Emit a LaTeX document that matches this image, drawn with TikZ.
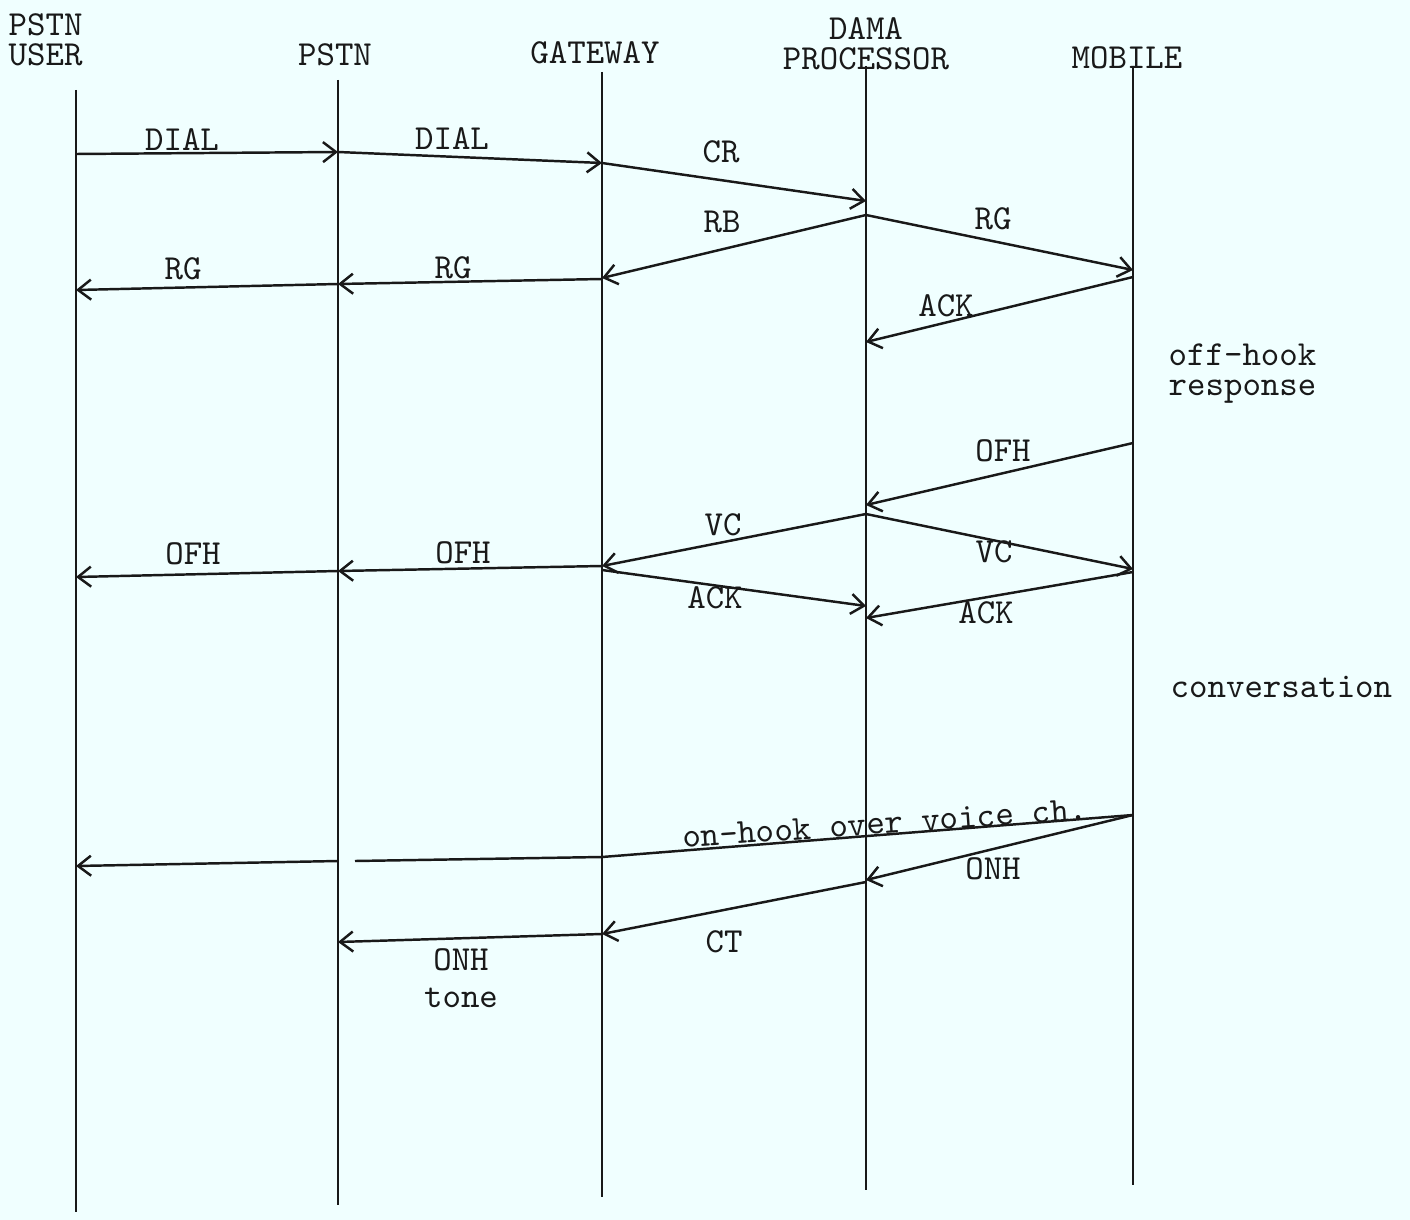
\documentclass[tikz,border=0pt]{standalone}
\usepackage{tikz}
\usetikzlibrary{arrows.meta,calc}
\definecolor{sigbg}{RGB}{240,255,255}
\definecolor{sigink}{RGB}{25,25,25}

\begin{document}
\begin{tikzpicture}[x=0.1mm, y=-0.1mm,
    party/.style={font=\ttfamily\fontsize{10}{8.6}\selectfont, inner sep=0pt,
                  align=center, text=sigink},
    lifeline/.style={draw=sigink, line width=0.5pt},
    msg/.style={draw=sigink, line width=0.7pt,
                -{Straight Barb[length=1.3mm,width=2mm]}},
    lbl/.style={font=\ttfamily\fontsize{10}{8.6}\selectfont, inner sep=0pt,
                text=sigink},
  ]
  % Background
  \fill[sigbg] (0,0) rectangle (1410,1220);

  % Parties
  \node[party, align=left, anchor=west] (user) at (8,40) {PSTN\\USER};
  \node[party] (pstn) at (335,55) {PSTN};
  \node[party] (gw) at (595,53) {GATEWAY};
  \node[party] (dama) at (866,44) {DAMA\\PROCESSOR};
  \node[party] (mob) at (1127,58) {MOBILE};

  % Lifelines
  \coordinate (userT) at (76,90);   \coordinate (userB) at (76,1212);
  \coordinate (pstnT) at (338,80);  \coordinate (pstnB) at (338,1205);
  \coordinate (gwT) at (602,72);    \coordinate (gwB) at (602,1197);
  \coordinate (damaT) at (866,66);  \coordinate (damaB) at (866,1190);
  \coordinate (mobT) at (1133,66);  \coordinate (mobB) at (1133,1185);
  \foreach \p in {user,pstn,gw,dama,mob}
    \draw[lifeline] (\p T) -- (\p B);

  % Call set-up
  \draw[msg] (userT |- 0,154) -- (pstnT |- 0,152);
  \draw[msg] (pstnT |- 0,152) -- (gwT |- 0,163);
  \draw[msg] (gwT |- 0,163) -- (damaT |- 0,201);
  \draw[msg] (damaT |- 0,215) -- (gwT |- 0,278);
  \draw[msg] (damaT |- 0,215) -- (mobT |- 0,270);
  \draw[msg] (gwT |- 0,279) -- (pstnT |- 0,284);
  \draw[msg] (pstnT |- 0,284) -- (userT |- 0,290);
  \draw[msg] (mobT |- 0,277) -- (damaT |- 0,342);

  \node[lbl] (lDialA) at (182,140) {DIAL};
  \node[lbl] (lDialB) at (452,139) {DIAL};
  \node[lbl] (lCr) at (721,152) {CR};
  \node[lbl] (lRb) at (722,222) {RB};
  \node[lbl] (lRgA) at (993,219) {RG};
  \node[lbl] (lRgB) at (453,268) {RG};
  \node[lbl] (lRgC) at (183,269) {RG};
  \node[lbl] (lAckA) at (946,306) {ACK};
  \node[lbl, align=left, anchor=north west] (lOffhook) at (1168,343)
    {off-hook\\response};

  % Answer
  \draw[msg] (mobT |- 0,443) -- (damaT |- 0,505);
  \draw[msg] (damaT |- 0,514) -- (gwT |- 0,566);
  \draw[msg] (damaT |- 0,514) -- (mobT |- 0,569);
  \draw[msg] (gwT |- 0,566) -- (pstnT |- 0,571);
  \draw[msg] (pstnT |- 0,571) -- (userT |- 0,577);
  \draw[msg] (gwT |- 0,570) -- (damaT |- 0,606);
  \draw[msg] (mobT |- 0,572) -- (damaT |- 0,618);

  \node[lbl] (lOfhA) at (1003,451) {OFH};
  \node[lbl] (lVcA) at (723,525) {VC};
  \node[lbl] (lVcB) at (994,552) {VC};
  \node[lbl] (lOfhB) at (463,553) {OFH};
  \node[lbl] (lOfhC) at (193,554) {OFH};
  \node[lbl] (lAckB) at (715,598) {ACK};
  \node[lbl] (lAckC) at (986,613) {ACK};
  \node[lbl, anchor=base west] (lConv) at (1170,697) {conversation};

  % Clear-down
  \draw[sigink, line width=0.7pt] (mobT |- 0,815) -- (gwT |- 0,857)
    -- ($(pstnT |- 0,861)+(17,0)$);
  \draw[msg] (pstnT |- 0,861) -- (userT |- 0,866);
  \draw[msg] (mobT |- 0,815) -- (damaT |- 0,880);
  \draw[msg] (damaT |- 0,882) -- (gwT |- 0,934);
  \draw[msg] (gwT |- 0,934) -- (pstnT |- 0,942);

  \node[lbl, rotate=4] (lOnhook) at (885,823) {on-hook over voice ch.};
  \node[lbl] (lOnhA) at (993,869) {ONH};
  \node[lbl] (lCt) at (724,942) {CT};
  \node[lbl, align=center] (lOnhB) at (461,978) {ONH\\[2pt]tone};
\end{tikzpicture}
\end{document}
